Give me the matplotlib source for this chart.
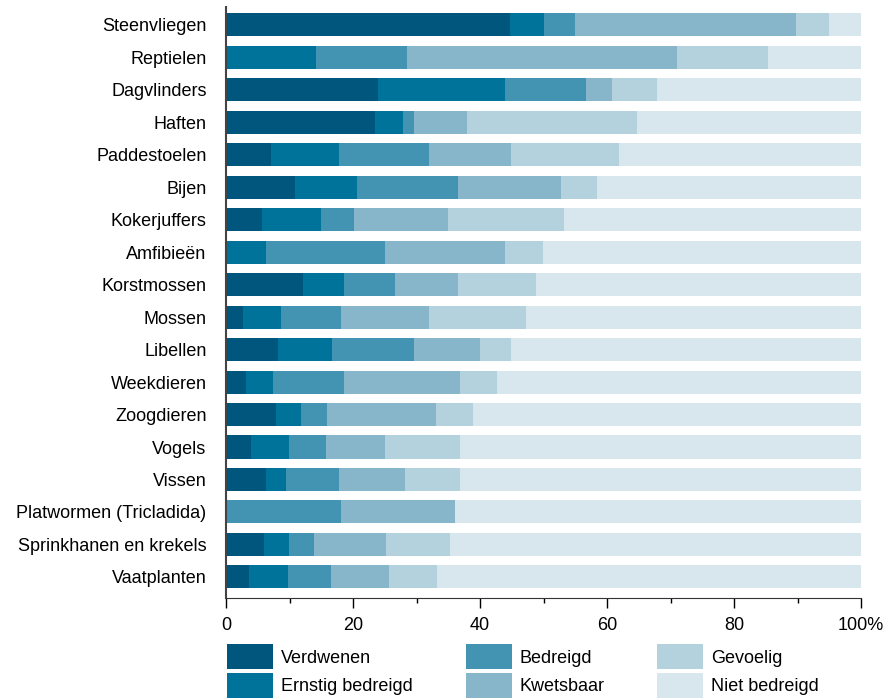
import matplotlib
matplotlib.use("Agg")
import matplotlib.pyplot as plt
from matplotlib.ticker import MultipleLocator, FuncFormatter
from matplotlib.font_manager import fontManager

names = {f.name for f in fontManager.ttflist}
fam = ["Liberation Sans Narrow", "DejaVu Sans"] if "Liberation Sans Narrow" in names else ["Liberation Sans", "DejaVu Sans"]
plt.rcParams["font.family"] = fam

groups = ["Steenvliegen", "Reptielen", "Dagvlinders", "Haften", "Paddestoelen", "Bijen",
          "Kokerjuffers", "Amfibieën", "Korstmossen", "Mossen", "Libellen", "Weekdieren",
          "Zoogdieren", "Vogels", "Vissen", "Platwormen (Tricladida)",
          "Sprinkhanen en krekels", "Vaatplanten"]

categories = ["Verdwenen", "Ernstig bedreigd", "Bedreigd", "Kwetsbaar", "Gevoelig", "Niet bedreigd"]

verdwenen = [44.8, 0.0, 24.0, 23.5, 7.1, 10.8, 5.7, 0.0, 12.1, 2.7, 8.2, 3.2, 7.9, 4.0, 6.3, 0.0, 6.0, 3.7]
ernstig   = [5.2, 14.2, 20.0, 4.4, 10.7, 9.8, 9.3, 6.3, 6.5, 6.0, 8.5, 4.2, 3.9, 5.9, 3.2, 0.0, 3.9, 6.1]
bedreigd  = [4.9, 14.3, 12.7, 1.7, 14.1, 16.0, 5.2, 18.8, 8.0, 9.4, 12.9, 11.2, 4.1, 5.9, 8.3, 18.1, 4.0, 6.8]
kwetsbaar = [34.8, 42.5, 4.1, 8.4, 13.0, 16.2, 14.7, 18.9, 10.0, 13.8, 10.4, 18.3, 17.1, 9.3, 10.4, 18.0, 11.3, 9.1]
gevoelig  = [5.2, 14.4, 7.1, 26.8, 17.0, 5.6, 18.4, 5.9, 12.2, 15.4, 4.9, 5.7, 5.9, 11.8, 8.7, 0.0, 10.1, 7.5]
niet      = [5.2, 14.6, 32.1, 35.2, 38.1, 41.6, 46.7, 50.1, 51.2, 52.7, 55.1, 57.4, 61.1, 63.1, 63.1, 63.9, 64.7, 66.8]

series = [verdwenen, ernstig, bedreigd, kwetsbaar, gevoelig, niet]
colors = ["#00567d", "#00739a", "#4393b2", "#87b6cb", "#b4d1de", "#d8e6ee"]

fig = plt.figure(figsize=(8.92, 6.98), dpi=100)
ax = fig.add_axes([226/892, 1 - 598/698, (861 - 226)/892, (598 - 7)/698])

y = list(range(len(groups)))
left = [0.0] * len(groups)
for vals, col, lab in zip(series, colors, categories):
    ax.barh(y, vals, left=left, height=0.71, color=col, label=lab, linewidth=0)
    left = [l + v for l, v in zip(left, vals)]

ax.set_ylim(len(groups) - 1 + 0.65, -0.55)
ax.set_xlim(0, 100)
ax.set_yticks(y)
ax.set_yticklabels(groups, fontsize=13)
ax.tick_params(axis="y", length=0, pad=14)
ax.xaxis.set_major_locator(MultipleLocator(20))
ax.xaxis.set_minor_locator(MultipleLocator(10))
ax.xaxis.set_major_formatter(FuncFormatter(lambda v, p: "100%" if v == 100 else f"{v:.0f}"))
ax.tick_params(axis="x", which="major", length=7, width=1, labelsize=13, pad=7)
ax.tick_params(axis="x", which="minor", length=3.5, width=1)
for s in ["top", "right"]:
    ax.spines[s].set_visible(False)
ax.spines["left"].set_color("#444444")
ax.spines["left"].set_linewidth(1.5)
ax.spines["bottom"].set_color("#333333")

leg = fig.legend(loc="upper left", bbox_to_anchor=(220/892, 1 - 637/698), ncol=3,
                 frameon=False, fontsize=13, handlelength=2.55, handleheight=1.75,
                 handletextpad=0.45, columnspacing=2.9, labelspacing=0.2, borderaxespad=0)

fig.savefig("out.png", dpi=100)
